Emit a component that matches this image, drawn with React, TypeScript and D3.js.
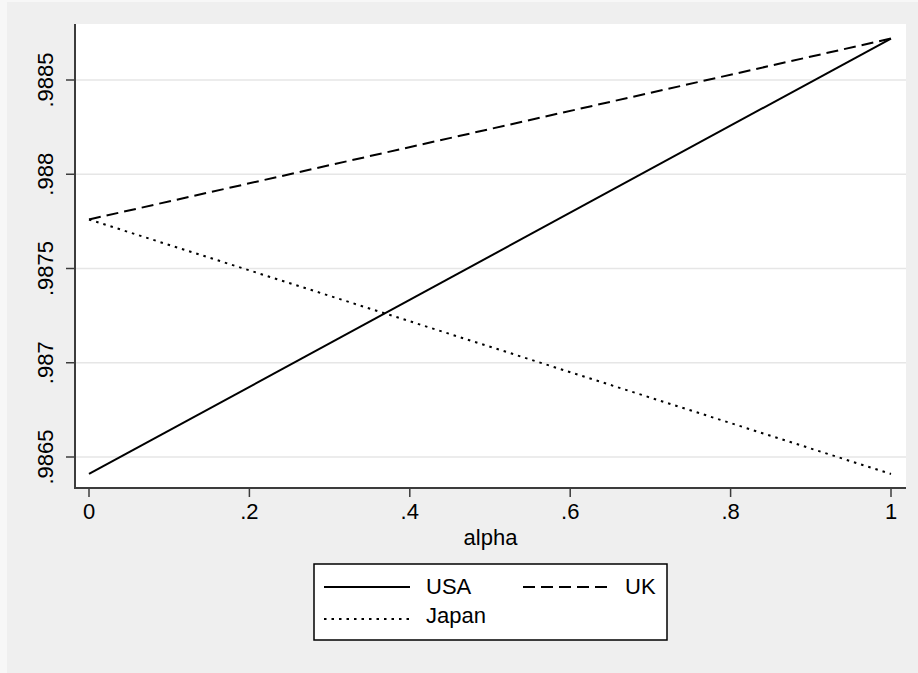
import { scaleLinear, line } from 'd3'

// Stata-style line plot: three countries against alpha, gray outer region,
// white plot region, rotated y tick labels, boxed legend below.

const alpha = [0, 1]
const usa = [0.98641, 0.98872]
const uk = [0.98776, 0.98872]
const japan = [0.98776, 0.98641]

const xTicks = [0, 0.2, 0.4, 0.6, 0.8, 1]
const xTickLabels = ['0', '.2', '.4', '.6', '.8', '1']
const yTicks = [0.9865, 0.987, 0.9875, 0.988, 0.9885]
const yTickLabels = ['.9865', '.987', '.9875', '.988', '.9885']

const FONT = '"Liberation Sans", Arial, Helvetica, sans-serif'
const AXIS = '#3c3c3c'
const GRID = '#e6e6e6'

const series = [
  { name: 'USA', values: usa, dash: undefined as string | undefined },
  { name: 'UK', values: uk, dash: '12,6' },
  { name: 'Japan', values: japan, dash: '2.5,5' },
]

export default function App() {
  const W = 918
  const H = 673
  const plot = { left: 75, right: 906, top: 24, bottom: 488 }
  const x = scaleLinear().domain([0, 1]).range([89, 891])
  const y = scaleLinear().domain([0.9865, 0.9885]).range([457, 80])

  const path = (vals: number[]) =>
    line<number>()
      .x((_, i) => x(alpha[i]))
      .y((d) => y(d))(vals) ?? ''

  const legend = { x: 314, y: 564, w: 353, h: 76 }
  const legendItems = [
    { s: series[0], lx: 324, tx: 426, ly: 587, ty: 594 },
    { s: series[1], lx: 523, tx: 625, ly: 587, ty: 594 },
    { s: series[2], lx: 324, tx: 426, ly: 619, ty: 623 },
  ]

  return (
    <svg
      width={W}
      height={H}
      viewBox={`0 0 ${W} ${H}`}
      style={{ position: 'absolute', left: 0, top: 0 }}
      fontFamily={FONT}
    >
      <rect x={0} y={0} width={W} height={H} fill="#f7f7f7" />
      <rect x={7} y={2} width={W - 7} height={H - 2} fill="#efefef" />
      <rect
        x={plot.left}
        y={plot.top}
        width={plot.right - plot.left}
        height={plot.bottom - plot.top}
        fill="#ffffff"
      />
      {yTicks.map((t, i) => (
        <g key={t}>
          <line x1={plot.left} x2={plot.right} y1={y(t)} y2={y(t)} stroke={GRID} strokeWidth={1.5} />
          <line x1={66} x2={plot.left} y1={y(t)} y2={y(t)} stroke={AXIS} strokeWidth={1.5} />
          <text
            transform={`translate(53,${y(t)}) rotate(-90)`}
            textAnchor="middle"
            fontSize={22}
            fill="#000"
          >
            {yTickLabels[i]}
          </text>
        </g>
      ))}
      {xTicks.map((t, i) => (
        <g key={t}>
          <line x1={x(t)} x2={x(t)} y1={plot.bottom} y2={plot.bottom + 9} stroke={AXIS} strokeWidth={1.5} />
          <text x={x(t)} y={519} textAnchor="middle" fontSize={22} fill="#000">
            {xTickLabels[i]}
          </text>
        </g>
      ))}
      {series.map((s) => (
        <path
          key={s.name}
          d={path(s.values)}
          fill="none"
          stroke="#000"
          strokeWidth={2}
          strokeDasharray={s.dash}
        />
      ))}
      <line x1={plot.left} x2={plot.left} y1={plot.top} y2={plot.bottom + 1} stroke={AXIS} strokeWidth={2} />
      <line x1={plot.left - 1} x2={plot.right} y1={plot.bottom} y2={plot.bottom} stroke={AXIS} strokeWidth={2} />
      <text x={(plot.left + plot.right) / 2} y={545} textAnchor="middle" fontSize={22} fill="#000">
        alpha
      </text>
      <rect
        x={legend.x}
        y={legend.y}
        width={legend.w}
        height={legend.h}
        fill="#ffffff"
        stroke="#000"
        strokeWidth={1.5}
      />
      {legendItems.map(({ s, lx, tx, ly, ty }) => (
        <g key={s.name}>
          <line x1={lx} x2={lx + 86} y1={ly} y2={ly} stroke="#000" strokeWidth={2} strokeDasharray={s.dash} />
          <text x={tx} y={ty} fontSize={22} fill="#000">
            {s.name}
          </text>
        </g>
      ))}
    </svg>
  )
}
